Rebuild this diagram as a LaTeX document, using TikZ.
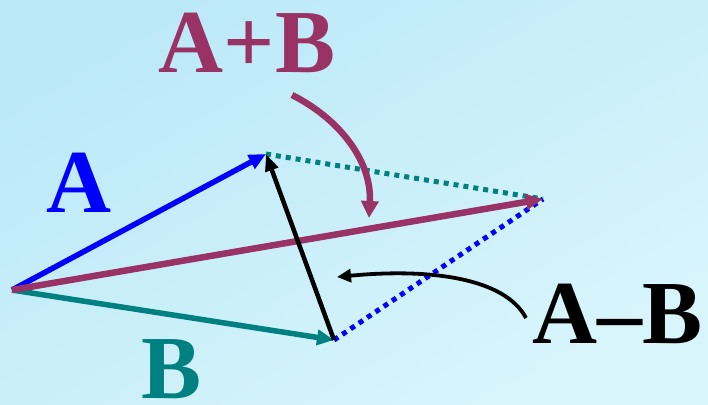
\documentclass[tikz,border=0pt]{standalone}
\usepackage{fontspec}
\setmainfont{Liberation Serif}
\usetikzlibrary{arrows.meta}
\definecolor{bgA}{RGB}{188,233,248}
\definecolor{bgB}{RGB}{216,245,251}
\definecolor{vpurple}{RGB}{153,51,102}
\definecolor{vteal}{RGB}{0,128,128}
\definecolor{vblue}{RGB}{0,0,255}
\begin{document}
\begin{tikzpicture}[x=1pt,y=-1pt,
  vec/.style={line width=5.5pt,-{Triangle[length=17pt,width=15pt]}},
  dotline/.style={line width=5pt,dash pattern=on 5pt off 5pt},
  lbl/.style={font=\bfseries\fontsize{90}{90}\selectfont,anchor=base,inner sep=0pt}]
\shade[top color=bgA,bottom color=bgB,shading angle=30] (0,0) rectangle (708,404);
\useasboundingbox (0,0) rectangle (708,404);
\coordinate (O) at (12,290);
\coordinate (At) at (266,154);
\coordinate (Bt) at (334,340);
\coordinate (St) at (543,199);
\coordinate (c1s) at (292,95);
\coordinate (c1e) at (369,218);
\coordinate (c2s) at (526,318);
\coordinate (c2e) at (337,277);
\node[lbl,text=vpurple] (lsum) at (247,72) {A+B};
\node[lbl,text=vblue] (la) at (79,212) {A};
\node[lbl,text=vteal] (lb) at (172,398) {B};
\node[lbl,text=black] (ld) at (618,343) {A–B};
\draw[dotline,vteal] (At) -- (St);
\draw[dotline,vblue] (Bt) -- (St);
\draw[vec,vblue] (O) -- (At);
\draw[vec,vteal] (O) -- (Bt);
\draw[vec,vpurple,line width=6.5pt] (O) -- (St);
\draw[vec,black,line width=4.5pt,-{Triangle[length=17pt,width=13pt]}] (Bt) -- (At);
\draw[line width=6.5pt,vpurple,-{Triangle[length=17pt,width=17pt]}] (c1s) .. controls (338,118) and (372,160) .. (c1e);
\draw[line width=3.8pt,black,-{Triangle[length=14pt,width=13pt]}] (c2s) .. controls (505,278) and (430,268) .. (c2e);
\end{tikzpicture}
\end{document}
